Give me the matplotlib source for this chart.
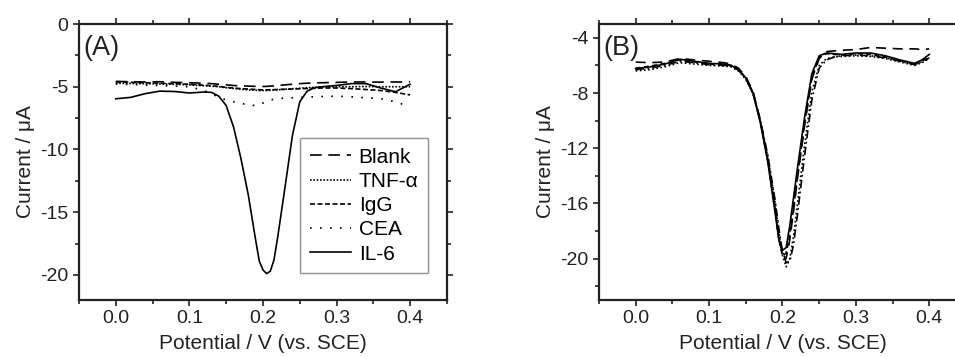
import numpy as np
import matplotlib
matplotlib.use("Agg")
from matplotlib import pyplot as plt
from matplotlib.ticker import MultipleLocator

plt.rcParams['font.family'] = ['Liberation Sans', 'DejaVu Sans']

# potential grid (V vs. SCE)
potential = [0.0, 0.02, 0.04, 0.06, 0.08, 0.10, 0.12, 0.13, 0.14, 0.15, 0.16, 0.17,
             0.18, 0.19, 0.195, 0.20, 0.205, 0.21, 0.215, 0.22, 0.23, 0.24, 0.25,
             0.26, 0.27, 0.28, 0.30, 0.32, 0.34, 0.36, 0.38, 0.39, 0.40]

# panel A: selectivity (current / uA)
blank = [-4.57, -4.60, -4.62, -4.60, -4.65, -4.68, -4.72, -4.75, -4.80, -4.85, -4.90, -4.93,
         -4.95, -4.97, -4.97, -4.98, -4.97, -4.95, -4.93, -4.90, -4.85, -4.80, -4.75,
         -4.72, -4.70, -4.68, -4.65, -4.62, -4.62, -4.63, -4.62, -4.62, -4.60]
tnf = [-4.72, -4.74, -4.76, -4.78, -4.80, -4.85, -4.92, -4.96, -5.00, -5.08, -5.14, -5.20,
       -5.25, -5.28, -5.30, -5.30, -5.30, -5.28, -5.26, -5.24, -5.20, -5.16, -5.12,
       -5.08, -5.05, -5.02, -5.00, -5.00, -4.98, -5.00, -5.00, -5.00, -5.00]
igg = [-4.62, -4.65, -4.68, -4.72, -4.76, -4.80, -4.88, -4.92, -4.97, -5.05, -5.10, -5.15,
       -5.18, -5.22, -5.24, -5.25, -5.25, -5.24, -5.23, -5.22, -5.20, -5.18, -5.16,
       -5.14, -5.12, -5.10, -5.10, -5.15, -5.22, -5.30, -5.45, -5.55, -5.65]
cea = [-4.78, -4.82, -4.86, -4.90, -4.95, -5.00, -5.30, -5.55, -5.85, -6.05, -6.20, -6.32,
       -6.45, -6.50, -6.45, -6.30, -6.15, -6.05, -6.00, -5.95, -5.90, -5.88, -5.85,
       -5.82, -5.80, -5.78, -5.75, -5.80, -5.88, -5.95, -6.20, -6.40, -6.40]
il6 = [-5.96, -5.85, -5.55, -5.35, -5.38, -5.50, -5.42, -5.45, -5.75, -6.50, -8.20, -10.70,
       -13.60, -17.20, -18.90, -19.60, -19.90, -19.70, -18.80, -17.00, -13.00, -8.90, -6.20,
       -5.35, -5.08, -5.00, -4.90, -4.75, -4.75, -5.10, -5.40, -5.10, -4.80]

# panel B: reproducibility, five electrodes
rep1 = [-6.24, -6.10, -5.90, -5.55, -5.70, -5.85, -5.90, -6.00, -6.30, -6.90, -8.00, -10.20,
        -13.00, -16.70, -18.60, -19.40, -19.20, -17.60, -15.60, -13.60, -9.80, -6.60, -5.30,
        -5.10, -5.15, -5.20, -5.10, -5.10, -5.30, -5.60, -5.85, -5.60, -5.20]
rep2 = [-5.76, -5.80, -5.75, -5.50, -5.60, -5.70, -5.80, -5.90, -6.20, -6.80, -7.90, -10.00,
        -12.80, -16.40, -18.50, -19.70, -20.00, -18.60, -16.60, -14.40, -10.40, -7.00, -5.50,
        -5.00, -4.95, -4.90, -4.85, -4.70, -4.75, -4.80, -4.80, -4.85, -4.80]
rep3 = [-6.40, -6.30, -6.10, -5.80, -5.90, -6.00, -6.05, -6.10, -6.40, -7.00, -8.10, -10.10,
        -12.60, -15.90, -18.00, -19.80, -20.60, -20.00, -18.40, -16.20, -11.80, -7.90, -6.00,
        -5.50, -5.40, -5.35, -5.30, -5.35, -5.50, -5.75, -6.00, -5.80, -5.50]
rep4 = [-6.30, -6.20, -6.00, -5.70, -5.80, -5.95, -6.00, -6.05, -6.35, -6.95, -8.05, -10.00,
        -12.50, -15.80, -17.80, -19.50, -20.30, -20.20, -19.00, -17.00, -12.60, -8.50, -6.20,
        -5.60, -5.40, -5.30, -5.25, -5.30, -5.45, -5.70, -5.95, -5.75, -5.45]
rep5 = [-6.20, -6.05, -5.85, -5.60, -5.75, -5.90, -5.95, -6.00, -6.30, -6.90, -8.00, -10.10,
        -12.90, -16.50, -18.60, -19.80, -19.60, -18.30, -16.40, -14.20, -10.20, -6.90, -5.40,
        -5.15, -5.20, -5.25, -5.15, -5.20, -5.40, -5.65, -5.90, -5.70, -5.35]

labels_a = ['Blank', 'TNF-α', 'IgG', 'CEA', 'IL-6']
dash_a = [(0, (7, 4)), (0, (1, 1)), (0, (3, 1.5)), (0, (1, 5)), '-']
dash_b = ['-', (0, (6, 4)), (0, (1, 1.5)), (0, (5, 2, 1, 2)), (0, (3, 2))]

ink = '#222222'


def style_axes(ax, ymin, ymax, ymaj, ymin_step):
    ax.set_xlim(-0.05, 0.45)
    ax.set_ylim(ymin, ymax)
    ax.xaxis.set_major_locator(MultipleLocator(0.1))
    ax.xaxis.set_minor_locator(MultipleLocator(0.05))
    ax.yaxis.set_major_locator(MultipleLocator(ymaj))
    ax.yaxis.set_minor_locator(MultipleLocator(ymin_step))
    ax.xaxis.set_major_formatter(plt.FuncFormatter(lambda v, p: '%.1f' % v))
    ax.yaxis.set_major_formatter(plt.FuncFormatter(lambda v, p: '%d' % round(v)))
    ax.tick_params(which='both', direction='out', top=True, right=True, width=1.2,
                   labelsize=14, colors=ink, labelcolor=ink, pad=3)
    ax.tick_params(which='major', length=4.5)
    ax.tick_params(which='minor', length=3)
    for s in ax.spines.values():
        s.set_linewidth(1.6)
        s.set_color(ink)
    ax.set_xlabel('Potential / V (vs. SCE)', fontsize=15, color=ink, labelpad=5)
    ax.set_ylabel('Current / μA', fontsize=15, color=ink, labelpad=4)


fig = plt.figure(figsize=(9.55, 3.57), dpi=100)
ax1 = fig.add_axes([0.0827, 0.1597, 0.3853, 0.773])
ax2 = fig.add_axes([0.6272, 0.1597, 0.3843, 0.773])

series_a = [blank, tnf, igg, cea, il6]
for y, lab, ls in zip(series_a, labels_a, dash_a):
    ax1.plot(potential, y, color='black', lw=1.2, linestyle=ls, label=lab)
style_axes(ax1, -22, 0, 5, 2.5)
ax1.text(0.012, 0.96, '(A)', transform=ax1.transAxes, fontsize=19.5, va='top', ha='left',
         color=ink)
leg = ax1.legend(loc='lower right', bbox_to_anchor=(0.948, 0.098), fontsize=15,
                 frameon=True, fancybox=False, handlelength=2.0, handletextpad=0.35,
                 labelspacing=0.25, borderpad=0.45, borderaxespad=0)
leg.get_frame().set_edgecolor('#777777')
leg.get_frame().set_linewidth(1.0)

series_b = [rep1, rep2, rep3, rep4, rep5]
for y, ls in zip(series_b, dash_b):
    ax2.plot(potential, y, color='black', lw=1.2, linestyle=ls)
style_axes(ax2, -23, -3, 4, 2)
ax2.text(0.012, 0.96, '(B)', transform=ax2.transAxes, fontsize=19.5, va='top', ha='left',
         color=ink)

fig.savefig('out.png', dpi=100)
